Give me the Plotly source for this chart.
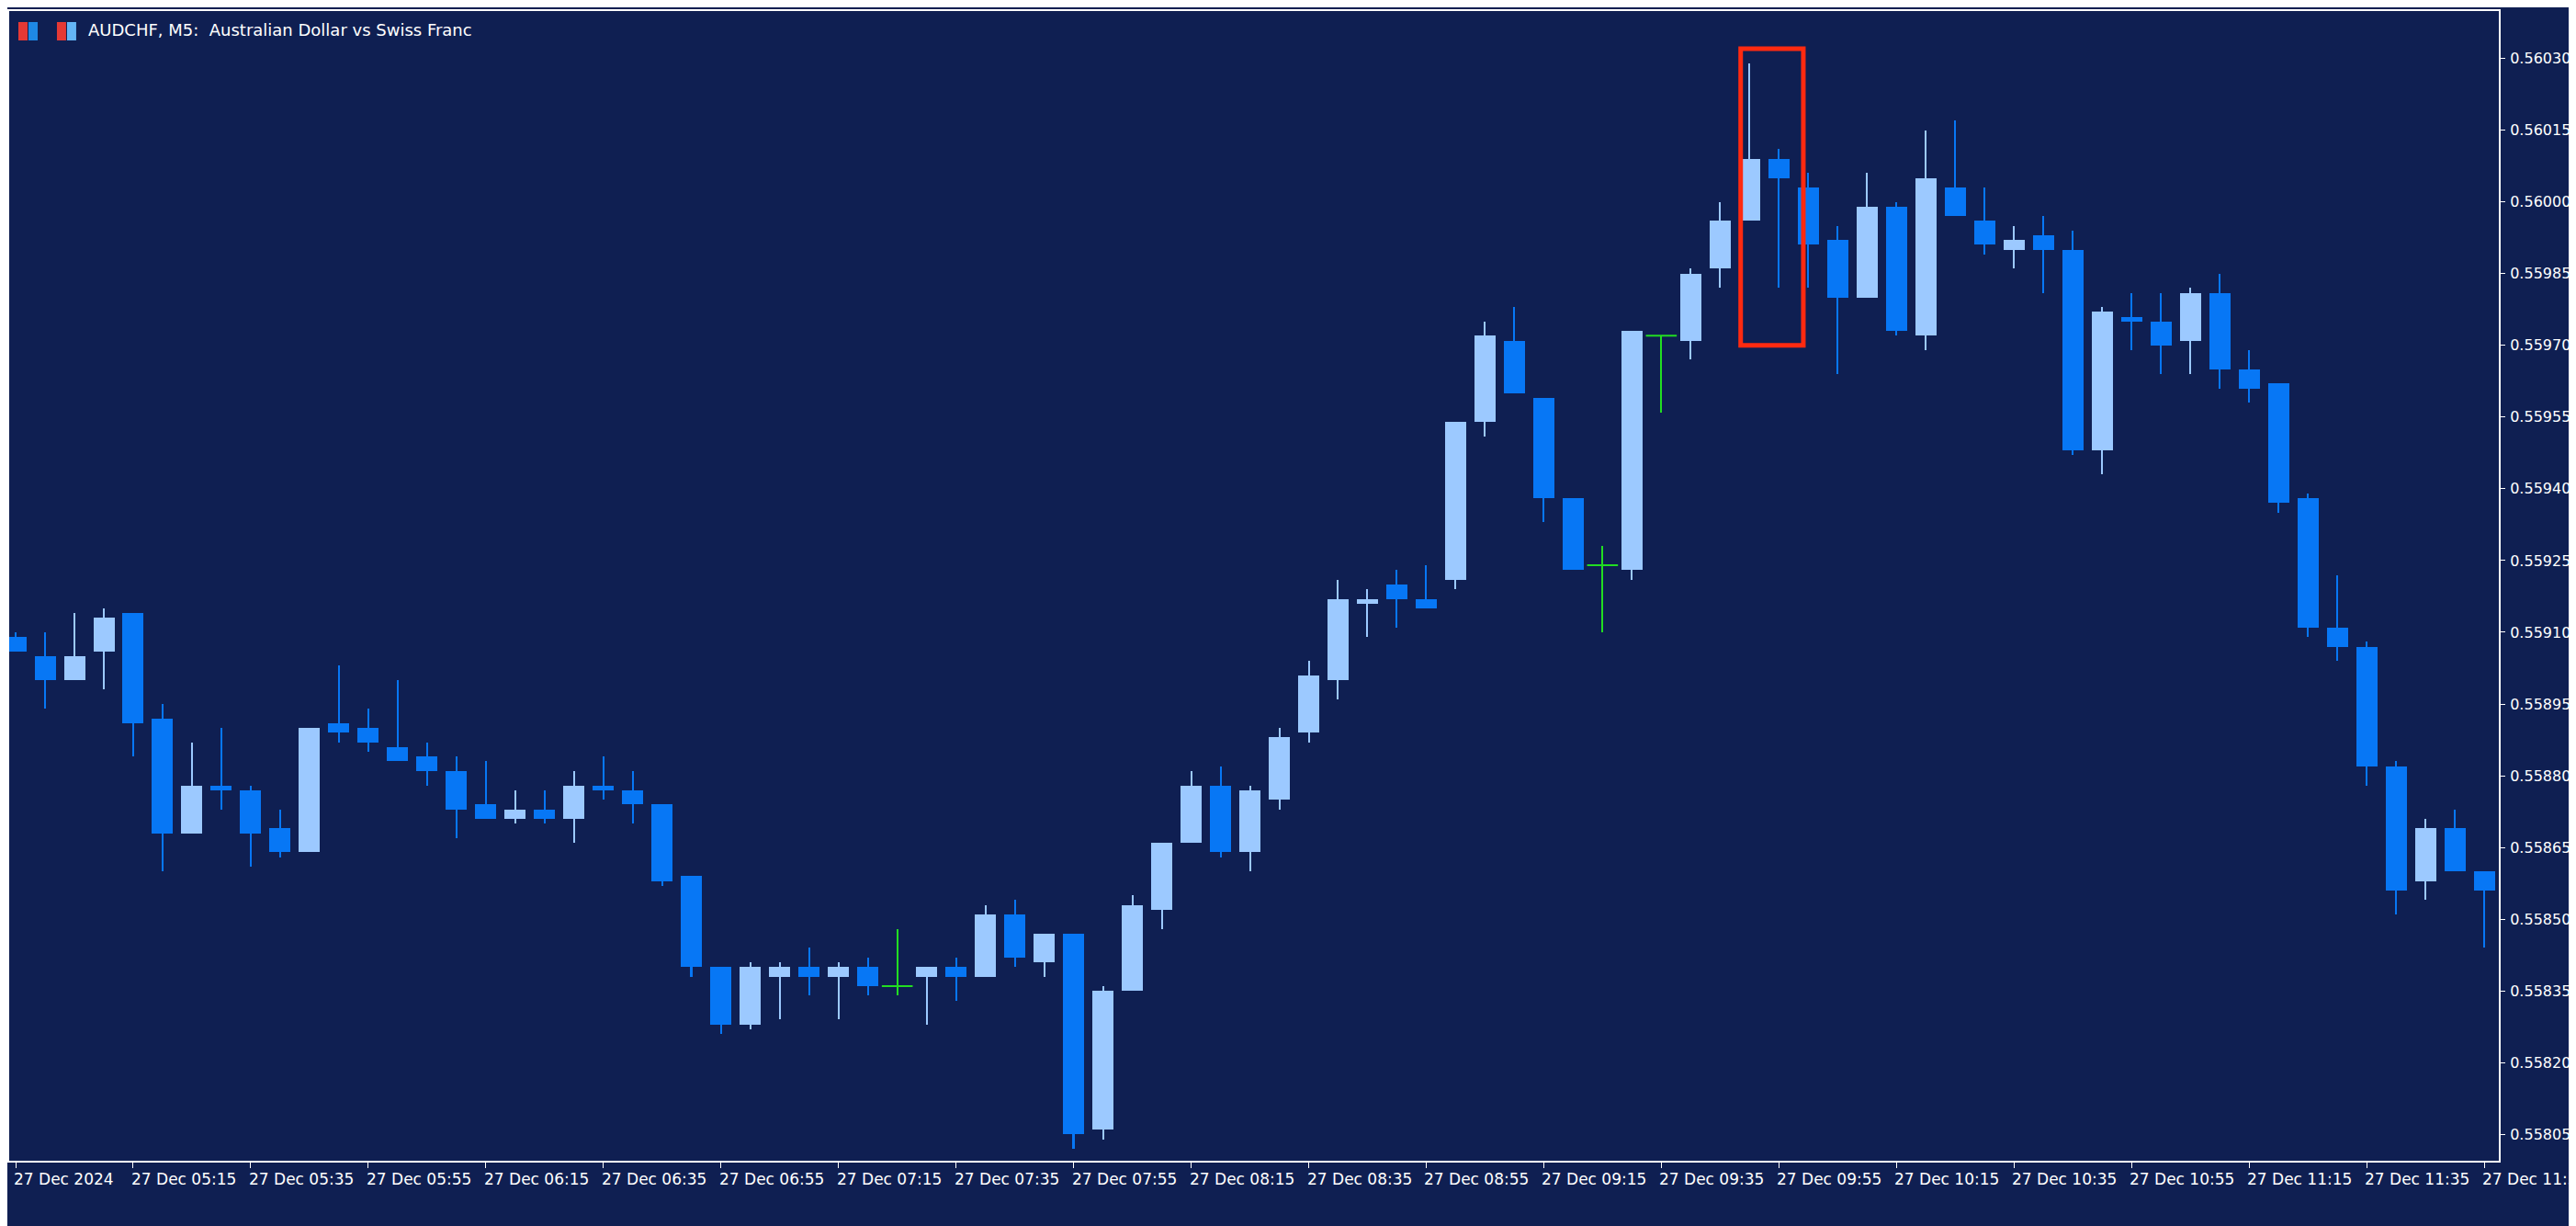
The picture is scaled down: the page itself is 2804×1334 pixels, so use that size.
import pandas as pd
import plotly.graph_objects as go

# AUDCHF M5 candles, 27 Dec 2024 04:55 .. 11:55
opens = [0.55909, 0.55905, 0.55900, 0.55906, 0.55914, 0.55892, 0.55868, 0.55878, 0.55877, 0.55869,
         0.55864, 0.55891, 0.55890, 0.55886, 0.55884, 0.55881, 0.55874, 0.55871, 0.55873, 0.55871,
         0.55878, 0.55877, 0.55874, 0.55859, 0.55840, 0.55828, 0.55838, 0.55840, 0.55838, 0.55840,
         0.55836, 0.55838, 0.55840, 0.55838, 0.55851, 0.55841, 0.55847, 0.55806, 0.55835, 0.55852,
         0.55866, 0.55878, 0.55864, 0.55875, 0.55889, 0.55900, 0.55916, 0.55920, 0.55917, 0.55921,
         0.55954, 0.55971, 0.55959, 0.55938, 0.55924, 0.55923, 0.55972, 0.55971, 0.55986, 0.55996,
         0.56009, 0.56003, 0.55992, 0.55980, 0.55999, 0.55972, 0.56003, 0.55996, 0.55990, 0.55993,
         0.55990, 0.55948, 0.55976, 0.55975, 0.55971, 0.55981, 0.55965, 0.55962, 0.55938, 0.55911,
         0.55907, 0.55882, 0.55858, 0.55869, 0.55860]
highs = [0.55910, 0.55910, 0.55914, 0.55915, 0.55914, 0.55895, 0.55887, 0.55890, 0.55878, 0.55873,
         0.55890, 0.55903, 0.55894, 0.55900, 0.55887, 0.55884, 0.55883, 0.55877, 0.55877, 0.55881,
         0.55884, 0.55881, 0.55874, 0.55859, 0.55840, 0.55841, 0.55841, 0.55844, 0.55841, 0.55842,
         0.55848, 0.55840, 0.55842, 0.55853, 0.55854, 0.55847, 0.55847, 0.55836, 0.55855, 0.55866,
         0.55881, 0.55882, 0.55878, 0.55890, 0.55904, 0.55921, 0.55919, 0.55923, 0.55924, 0.55954,
         0.55975, 0.55978, 0.55959, 0.55938, 0.55928, 0.55973, 0.55972, 0.55986, 0.56000, 0.56029,
         0.56011, 0.56006, 0.55995, 0.56006, 0.56000, 0.56015, 0.56017, 0.56003, 0.55995, 0.55997,
         0.55994, 0.55978, 0.55981, 0.55981, 0.55982, 0.55985, 0.55969, 0.55962, 0.55939, 0.55922,
         0.55908, 0.55883, 0.55871, 0.55873, 0.55860]
lows = [0.55906, 0.55894, 0.55900, 0.55898, 0.55884, 0.55860, 0.55868, 0.55873, 0.55861, 0.55863,
        0.55864, 0.55887, 0.55885, 0.55883, 0.55878, 0.55867, 0.55871, 0.55870, 0.55870, 0.55866,
        0.55875, 0.55870, 0.55857, 0.55838, 0.55826, 0.55827, 0.55829, 0.55834, 0.55829, 0.55834,
        0.55834, 0.55828, 0.55833, 0.55838, 0.55840, 0.55838, 0.55802, 0.55804, 0.55835, 0.55848,
        0.55866, 0.55863, 0.55860, 0.55873, 0.55887, 0.55896, 0.55909, 0.55911, 0.55915, 0.55919,
        0.55951, 0.55960, 0.55933, 0.55923, 0.55910, 0.55921, 0.55956, 0.55967, 0.55982, 0.55996,
        0.55982, 0.55982, 0.55964, 0.55980, 0.55972, 0.55969, 0.55997, 0.55989, 0.55986, 0.55981,
        0.55947, 0.55943, 0.55969, 0.55964, 0.55964, 0.55961, 0.55958, 0.55935, 0.55909, 0.55904,
        0.55878, 0.55851, 0.55854, 0.55860, 0.55844]
closes = [0.55906, 0.55900, 0.55905, 0.55913, 0.55891, 0.55868, 0.55878, 0.55877, 0.55868, 0.55864,
          0.55890, 0.55889, 0.55887, 0.55883, 0.55881, 0.55873, 0.55871, 0.55873, 0.55871, 0.55878,
          0.55877, 0.55874, 0.55858, 0.55840, 0.55828, 0.55840, 0.55840, 0.55838, 0.55840, 0.55836,
          0.55836, 0.55840, 0.55838, 0.55851, 0.55842, 0.55847, 0.55805, 0.55835, 0.55853, 0.55866,
          0.55878, 0.55864, 0.55877, 0.55888, 0.55901, 0.55917, 0.55917, 0.55917, 0.55915, 0.55954,
          0.55972, 0.55960, 0.55938, 0.55923, 0.55924, 0.55973, 0.55972, 0.55985, 0.55996, 0.56009,
          0.56005, 0.55991, 0.55980, 0.55999, 0.55973, 0.56005, 0.55997, 0.55991, 0.55992, 0.55990,
          0.55948, 0.55977, 0.55975, 0.55970, 0.55981, 0.55965, 0.55961, 0.55937, 0.55911, 0.55907,
          0.55882, 0.55856, 0.55869, 0.55860, 0.55856]

times = pd.date_range("2024-12-27 04:55", periods=len(opens), freq="5min")
tick_labels = ["27 Dec 2024"] + [t.strftime("27 Dec %H:%M") for t in times[4::4]]
price_ticks = [0.55805, 0.55820, 0.55835, 0.55850, 0.55865, 0.55880, 0.55895, 0.55910,
               0.55925, 0.55940, 0.55955, 0.55970, 0.55985, 0.56000, 0.56015, 0.56030]
price_labels = ["0.55805", "0.55820", "0.55835", "0.55850", "0.55865", "0.55880", "0.55895", "0.55910",
                "0.55925", "0.55940", "0.55955", "0.55970", "0.55985", "0.56000", "0.56015", "0.56030"]

BG = "#0f1f52"
BULL = "#9cc9ff"
BEAR = "#0777f5"
DOJI = "#22dd22"
FONT = "DejaVu Sans"

df = pd.DataFrame({"t": times, "o": opens, "h": highs, "l": lows, "c": closes})
df["kind"] = "bear"
df.loc[df.c > df.o, "kind"] = "bull"
df.loc[df.c == df.o, "kind"] = "doji"
colors = {"bull": BULL, "bear": BEAR, "doji": DOJI}

ms_px = 300000 / 32.0  # ms per screen pixel

fig = go.Figure()
for kind, col in colors.items():
    d = df[df.kind == kind]
    # wicks
    fig.add_trace(go.Bar(x=d.t, y=d.h - d.l, base=d.l, width=2 * ms_px,
                         marker=dict(color=col, line_width=0), hoverinfo="skip"))
    if kind == "doji":
        fig.add_trace(go.Scatter(x=d.t, y=d.o, mode="markers",
                                 marker=dict(symbol="line-ew", size=24,
                                             line=dict(color=col, width=2)),
                                 hoverinfo="skip"))
    else:
        lo = d[["o", "c"]].min(axis=1)
        hi = d[["o", "c"]].max(axis=1)
        fig.add_trace(go.Bar(x=d.t, y=hi - lo, base=lo, width=23 * ms_px,
                             marker=dict(color=col, line_width=0), hoverinfo="skip"))

# tick label annotations, left aligned like the terminal
for t, lab in zip(times[::4], tick_labels):
    fig.add_annotation(x=t, y=-0.006, xref="x", yref="paper", text=lab, showarrow=False,
                       xanchor="left", yanchor="top", xshift=-4,
                       font=dict(family=FONT, size=17, color="white"))

# highlighted candles
fig.add_shape(type="rect", x0=times[59] - pd.Timedelta("90s"), x1=times[61] - pd.Timedelta("50s"),
              y0=0.55970, y1=0.56032, line=dict(color="#ff2a10", width=5))

fig.add_annotation(x=0, y=1, xref="paper", yref="paper", xshift=84, yshift=-8,
                   text="AUDCHF, M5:  Australian Dollar vs Swiss Franc", showarrow=False,
                   xanchor="left", yanchor="top", font=dict(family=FONT, size=18, color="white"))
# two small header icons
for x0, c1, c2 in [(10, "#e53935", "#1e88e5"), (52, "#e53935", "#64b5f6")]:
    fig.add_shape(type="rect", xref="paper", yref="paper",
                  x0=x0 / 2712, x1=(x0 + 10) / 2712, y0=1 - 32 / 1251, y1=1 - 12 / 1251,
                  fillcolor=c1, line_width=0)
    fig.add_shape(type="rect", xref="paper", yref="paper",
                  x0=(x0 + 11) / 2712, x1=(x0 + 21) / 2712, y0=1 - 32 / 1251, y1=1 - 12 / 1251,
                  fillcolor=c2, line_width=0)

fig.update_layout(
    width=2804, height=1334, barmode="overlay", bargap=0, showlegend=False,
    paper_bgcolor=BG, plot_bgcolor=BG,
    margin=dict(l=2, r=92, t=4, b=79, autoexpand=False),
    xaxis=dict(range=[times[0] - pd.Timedelta("66s"), times[0] + pd.Timedelta(minutes=5 * 84.5)],
               showgrid=False, zeroline=False, showticklabels=False,
               tickvals=list(times[::4]), ticks="outside", ticklen=6, tickcolor="white",
               showline=True, linecolor="white", linewidth=2, mirror=True),
    yaxis=dict(range=[0.557995, 0.560399], side="right", showgrid=False, zeroline=False,
               tickvals=price_ticks, ticktext=price_labels, ticks="outside", ticklen=5,
               tickcolor="white", showline=True, linecolor="white", linewidth=2, mirror=True,
               ticklabelstandoff=2,
               tickfont=dict(family=FONT, size=16, color="white")),
)

fig.write_html("out.html")
